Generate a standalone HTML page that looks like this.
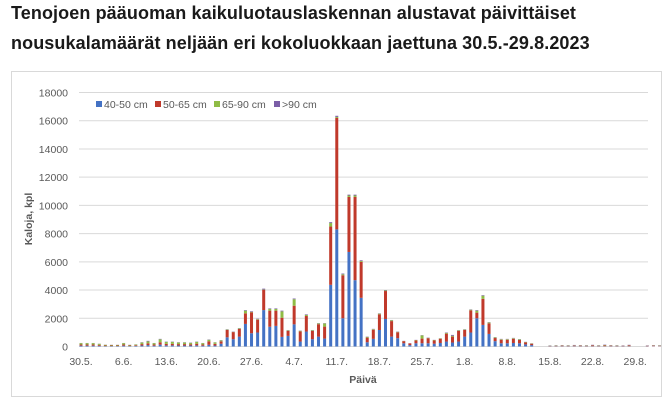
<!DOCTYPE html>
<html><head><meta charset="utf-8">
<style>
body{margin:0;width:671px;height:404px;background:#fff;overflow:hidden;font-family:"Liberation Sans",sans-serif}
.title{position:absolute;left:11px;font-size:18px;font-weight:bold;color:#1a1a1a;white-space:nowrap;letter-spacing:0.1px}
</style></head><body>
<div class="title" style="top:3px">Tenojoen pääuoman kaikuluotauslaskennan alustavat päivittäiset</div>
<div class="title" style="top:33px">nousukalamäärät neljään eri kokoluokkaan jaettuna 30.5.-29.8.2023</div>
<svg id="chart" width="671" height="404" style="position:absolute;left:0;top:0" xmlns="http://www.w3.org/2000/svg">
<rect x="11.5" y="71.5" width="650" height="325" fill="none" stroke="#d9d9d9"/>
</svg>
<script>
const dateLabels=["30.5.","6.6.","13.6.","20.6.","27.6.","4.7.","11.7.","18.7.","25.7.","1.8.","8.8.","15.8.","22.8.","29.8."];
const yTicks=[0,2000,4000,6000,8000,10000,12000,14000,16000,18000];
const seriesNames=["40-50 cm","50-65 cm","65-90 cm",">90 cm"];
const seriesColors=["#4472c4","#c0392b","#8fbc45","#7b5ea7"];
const totals=[250,250,250,200,130,120,120,250,120,150,300,400,250,540,350,350,300,300,280,350,250,500,300,450,
1220,1060,1300,2580,2500,1970,4100,2700,2700,2540,1170,3400,1130,2280,1170,1650,1650,
8810,16350,5170,10760,10760,6110,700,1250,2350,4000,1880,1060,400,230,470,800,630,470,590,990,820,1170,1220,2630,2580,3640,1720,660,540,540,610,520,330,230,
0,0,80,90,100,90,110,100,90,120,90,130,100,90,80,120,0,0,80,100,90];
const blue=[60,60,60,50,30,30,30,60,30,40,70,100,60,130,80,80,70,70,70,80,60,120,70,200,
650,520,700,1600,940,990,2580,1400,1460,680,750,1570,350,1060,520,700,560,
4370,8300,2000,6700,4700,3450,300,540,1170,1950,700,590,230,100,230,230,230,200,250,350,280,350,700,990,2000,1530,890,380,230,230,250,230,150,100,
0,0,20,20,20,20,20,20,20,20,20,20,20,20,20,20,0,0,20,20,20];
const red=[80,80,80,60,40,40,40,80,40,50,100,130,80,170,110,110,100,100,90,120,80,250,120,170,
520,500,540,750,1480,910,1440,1140,1080,1360,360,1320,720,1100,580,880,850,
4130,7900,3050,3900,5900,2550,330,650,1110,1980,1100,420,150,120,200,330,360,230,300,560,420,760,470,1570,400,1850,750,220,250,250,300,230,150,100,
0,0,20,30,40,30,40,40,30,50,30,50,40,30,30,50,0,0,30,40,30];
const purple=[10,10,10,10,10,10,10,10,10,10,20,40,10,30,20,20,20,20,20,20,10,20,10,20,
20,20,20,40,40,30,60,40,40,50,20,50,20,40,20,20,20,
60,80,50,60,60,50,20,20,20,30,20,20,10,10,10,20,20,10,10,30,60,20,20,20,40,40,20,20,20,20,20,20,10,10,
0,0,20,20,20,20,30,20,20,30,20,30,20,20,20,30,0,0,20,20,20];
const green=totals.map((t,i)=>Math.max(0,t-blue[i]-red[i]-purple[i]));
const svg=document.getElementById('chart');
const NS='http://www.w3.org/2000/svg';
const X0=81,DX=6.09,Y0=346.5,YPX=254/18000;
const xs=i=>X0+DX*i, ys=v=>Y0-v*YPX;
function mk(tag,attrs){const e=document.createElementNS(NS,tag);for(const k in attrs)e.setAttribute(k,attrs[k]);svg.appendChild(e);return e;}
yTicks.forEach(v=>{
  const l=mk('line',{x1:79,x2:648,y1:ys(v),y2:ys(v),stroke:'#d9d9d9','stroke-width':1});
  
  
  const t=mk('text',{x:68,y:ys(v)+4,'text-anchor':'end','font-size':'10.5',fill:'#595959','font-family':'Liberation Sans, sans-serif'});
  t.textContent=v;
  
  
});
dateLabels.forEach((d,k)=>{
  const t=mk('text',{x:xs(k*7),y:365,'text-anchor':'middle','font-size':'10.5',fill:'#595959','font-family':'Liberation Sans, sans-serif'});
  t.textContent=d;
  
  
});
const series=[blue,red,green,purple];
totals.forEach((t,i)=>{
  let acc=0;
  series.forEach((s,si)=>{
    const v=s[i]; if(!v) return;
    const r=mk('rect',{x:xs(i)-1.5,y:ys(acc+v),width:3,height:v*YPX,fill:seriesColors[si]});
    
    
    acc+=v;
  });
});
let lx=96;
seriesNames.forEach((n,si)=>{
  const r=mk('rect',{x:lx,y:101,width:6,height:6,fill:seriesColors[si]});
  
  
  const t=mk('text',{x:lx+8,y:108,'font-size':'10.5',fill:'#595959','font-family':'Liberation Sans, sans-serif'});
  t.textContent=n;
  
  
  lx+=[59,59,60,50][si];
});
const xt=mk('text',{x:363,y:383,'text-anchor':'middle','font-size':'10.5','font-weight':'bold',fill:'#595959','font-family':'Liberation Sans, sans-serif'});
xt.textContent='Päivä';


const yt=mk('text',{x:0,y:0,'text-anchor':'middle','font-size':'10.5','font-weight':'bold',fill:'#595959','font-family':'Liberation Sans, sans-serif',transform:'translate(32,219) rotate(-90)'});
yt.textContent='Kaloja, kpl';


</script>
</body></html>
